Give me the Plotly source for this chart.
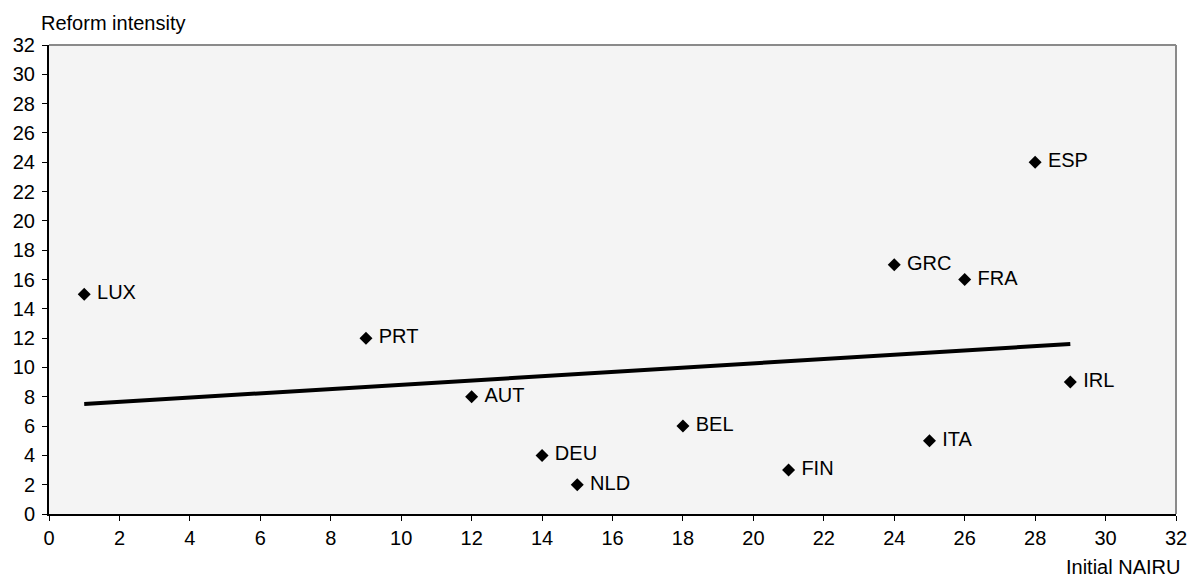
import plotly.graph_objects as go

FONT_FAMILY = "Liberation Sans, Arial, sans-serif"

countries = ["LUX", "PRT", "AUT", "DEU", "NLD", "BEL", "FIN", "GRC", "ITA", "FRA", "ESP", "IRL"]
nairu = [1, 9, 12, 14, 15, 18, 21, 24, 25, 26, 28, 29]
reform = [15, 12, 8, 4, 2, 6, 3, 17, 5, 16, 24, 9]

trend_x = [1, 29]
trend_y = [7.5, 11.6]

ticks = list(range(0, 33, 2))

fig = go.Figure()
fig.add_trace(go.Scatter(x=trend_x, y=trend_y, mode='lines',
                         line=dict(color='black', width=4), hoverinfo='skip'))
fig.add_trace(go.Scatter(x=nairu, y=reform, mode='markers+text', text=["\u00a0" + c for c in countries],
                         textposition='middle right', textfont=dict(size=20, color='black'),
                         marker=dict(symbol='diamond', color='black', size=10)))

# gray frame on top and right
fig.add_shape(type='line', xref='paper', yref='paper', x0=0, x1=1, y0=1, y1=1,
              line=dict(color='#8a8a8a', width=2))
fig.add_shape(type='line', xref='paper', yref='paper', x0=1, x1=1, y0=0, y1=1,
              line=dict(color='#8a8a8a', width=2))

fig.add_annotation(text="Reform intensity", xref='paper', yref='paper', x=-0.0089, y=1.047,
                   xanchor='left', yanchor='middle', showarrow=False, font=dict(size=20))
fig.add_annotation(text="Initial NAIRU", xref='paper', yref='paper', x=1.005, y=-0.113,
                   xanchor='right', yanchor='middle', showarrow=False, font=dict(size=20))

# page body has an 8px margin, so everything is shifted by 8px
fig.update_layout(
    width=1188, height=570,
    showlegend=False,
    plot_bgcolor='#f4f4f4',
    paper_bgcolor='white',
    margin=dict(l=41, r=20, t=37, b=64, pad=0),
    font=dict(family=FONT_FAMILY, size=20, color='black'),
)
fig.update_xaxes(range=[0, 32], tickvals=ticks, showgrid=False, zeroline=False, automargin=False,
                 showline=True, linecolor='black', linewidth=2, ticklabeloverflow='allow',
                 ticks='outside', ticklen=5, tickcolor='black', tickwidth=1)
fig.update_yaxes(range=[0, 32], tickvals=ticks, showgrid=False, zeroline=False, automargin=False,
                 showline=True, linecolor='black', linewidth=2, ticklabelstandoff=3,
                 ticks='outside', ticklen=5, tickcolor='black', tickwidth=1)

fig.write_html("out.html")
